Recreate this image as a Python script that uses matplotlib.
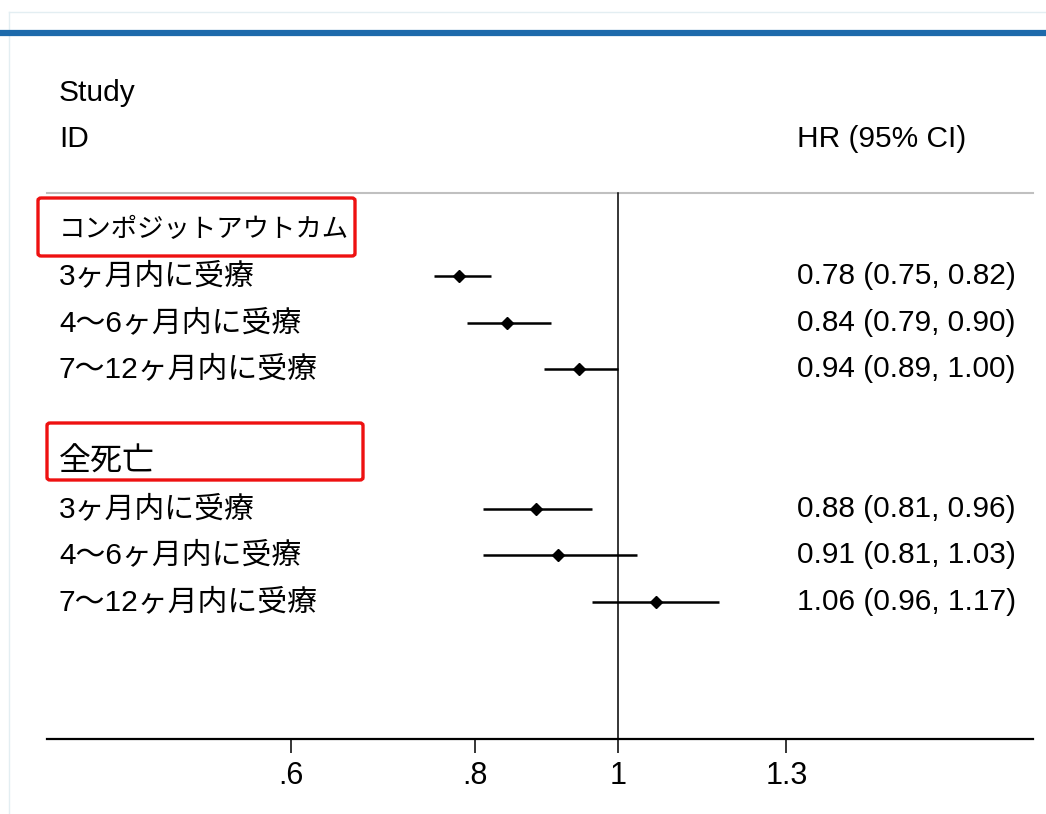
import matplotlib
matplotlib.use("Agg")
import matplotlib.pyplot as plt
from matplotlib.patches import FancyBboxPatch
from matplotlib.lines import Line2D
from matplotlib.transforms import blended_transform_factory

plt.rcParams['font.family'] = ['Liberation Sans', 'Noto Sans CJK JP', 'DejaVu Sans']

# ---------------- data ----------------
group_labels = ['コンポジットアウトカム', '全死亡']
sub_labels = ['3ヶ月内に受療', '4〜6ヶ月内に受療', '7〜12ヶ月内に受療']
hr_comp = [0.78, 0.84, 0.94]
lo_comp = [0.75, 0.79, 0.89]
hi_comp = [0.82, 0.90, 1.00]
hr_mort = [0.88, 0.91, 1.06]
lo_mort = [0.81, 0.81, 0.96]
hi_mort = [0.96, 1.03, 1.17]
xticks = [0.6, 0.8, 1.0, 1.3]
xtick_labels = ['.6', '.8', '1', '1.3']

W, H = 1046, 814
fig = plt.figure(figsize=(W / 100, H / 100), dpi=100)

def fx(px):
    return px / W
def fy(py):
    return 1 - py / H

ax_left, ax_right, ax_top, ax_bot = 47, 1033, 67, 739
ax = fig.add_axes([fx(ax_left), fy(ax_bot), fx(ax_right - ax_left), (ax_bot - ax_top) / H])
ax.set_xscale('log')
ax.set_xlim(0.41, 1.91)
ax.set_ylim(10.95, -3.5)

for s in ['top', 'right', 'left']:
    ax.spines[s].set_visible(False)
ax.spines['bottom'].set_linewidth(1.6)
ax.set_yticks([])
ax.set_xticks(xticks)
ax.xaxis.set_minor_locator(matplotlib.ticker.NullLocator())
ax.set_xticklabels(xtick_labels, fontsize=22)
ax.tick_params(axis='x', length=10, width=1.1, pad=6)

comp_rows = [1, 2, 3]
mort_rows = [6, 7, 8]
group_rows = [0, 5]

ax.plot([0.41, 1.91], [-0.8, -0.8], color='#c0c0c0', lw=1.5, clip_on=False)
ax.plot([1, 1], [-0.8, 10.95], color='black', lw=1.1)

def draw(hr, lo, hi, rows):
    for h, l, u, r in zip(hr, lo, hi, rows):
        ax.plot([l, u], [r, r], color='black', lw=1.8, solid_capstyle='butt')
        ax.plot([h], [r], marker='D', color='black', markersize=6.5)

draw(hr_comp, lo_comp, hi_comp, comp_rows)
draw(hr_mort, lo_mort, hi_mort, mort_rows)

tr = blended_transform_factory(ax.transAxes, ax.transData)
xl = (59 - ax_left) / (ax_right - ax_left)
xr = (797 - ax_left) / (ax_right - ax_left)
fs = 21.5

ax.text(xl, -2.95, 'Study', transform=tr, fontsize=fs, va='center', ha='left')
ax.text(xl, -1.96, 'ID', transform=tr, fontsize=fs, va='center', ha='left')
ax.text(xr, -1.96, 'HR (95% CI)', transform=tr, fontsize=fs, va='center', ha='left')

group_sizes = [19, 23]
for g, r, gs in zip(group_labels, group_rows, group_sizes):
    ax.text(xl, r, g, transform=tr, fontsize=gs, va='center', ha='left')
for lab, r in zip(sub_labels, comp_rows):
    ax.text(xl, r, lab, transform=tr, fontsize=fs, va='center', ha='left')
for lab, r in zip(sub_labels, mort_rows):
    ax.text(xl, r, lab, transform=tr, fontsize=fs, va='center', ha='left')

for h, l, u, r in zip(hr_comp + hr_mort, lo_comp + lo_mort, hi_comp + hi_mort, comp_rows + mort_rows):
    ax.text(xr, r, f'{h:.2f} ({l:.2f}, {u:.2f})', transform=tr, fontsize=fs, va='center', ha='left')

for (x0, y0, x1, y1) in [(38, 198, 355, 256), (47, 423, 363, 480)]:
    fig.add_artist(FancyBboxPatch((fx(x0), fy(y1)), fx(x1 - x0), (y1 - y0) / H,
                                  boxstyle='round,pad=0,rounding_size=0.003',
                                  transform=fig.transFigure, fill=False,
                                  edgecolor='#ee1111', lw=2.4))

fig.add_artist(Line2D([fx(9), 1], [fy(12), fy(12)], transform=fig.transFigure, color='#e3eef2', lw=1))
fig.add_artist(Line2D([fx(9), fx(9)], [fy(12), 0], transform=fig.transFigure, color='#e3eef2', lw=1))
fig.add_artist(Line2D([0, 1], [fy(33), fy(33)], transform=fig.transFigure, color='#1d6aab', lw=4.5))

fig.savefig('out.png', dpi=100)
